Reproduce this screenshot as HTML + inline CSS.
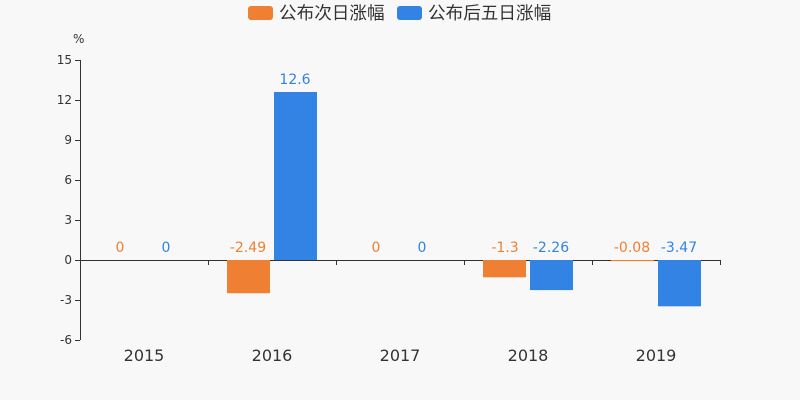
<!DOCTYPE html>
<html><head><meta charset="utf-8"><style>
body{margin:0;background:#f8f8f8;}
svg{display:block;font-family:"DejaVu Sans","Noto Sans CJK SC",sans-serif;}
</style></head><body>
<svg width="800" height="400" viewBox="0 0 800 400">
<rect width="800" height="400" fill="#f8f8f8"/>
<rect x="248" y="6" width="25" height="14" rx="3" fill="#ef7f32"/>
<text x="279" y="19" font-size="17.6" fill="#333">公布次日涨幅</text>
<rect x="397" y="6" width="25" height="14" rx="3" fill="#3283e4"/>
<text x="428" y="19" font-size="17.6" fill="#333">公布后五日涨幅</text>
<text x="73" y="43" font-size="12" fill="#333">%</text>
<g stroke="#333" stroke-width="1" fill="none">
<line x1="80.5" y1="60" x2="80.5" y2="340"/>
<line x1="80" y1="260.5" x2="720" y2="260.5"/>
<line x1="75" y1="60.5" x2="80" y2="60.5"/><line x1="75" y1="100.5" x2="80" y2="100.5"/>
<line x1="75" y1="140.5" x2="80" y2="140.5"/><line x1="75" y1="180.5" x2="80" y2="180.5"/>
<line x1="75" y1="220.5" x2="80" y2="220.5"/><line x1="75" y1="260.5" x2="80" y2="260.5"/>
<line x1="75" y1="300.5" x2="80" y2="300.5"/><line x1="75" y1="340.5" x2="80" y2="340.5"/>
<line x1="208.5" y1="260" x2="208.5" y2="265"/><line x1="336.5" y1="260" x2="336.5" y2="265"/>
<line x1="464.5" y1="260" x2="464.5" y2="265"/><line x1="592.5" y1="260" x2="592.5" y2="265"/>
<line x1="720.5" y1="260" x2="720.5" y2="265"/>
</g>
<g font-size="12" fill="#333" text-anchor="end">
<text x="72" y="64">15</text><text x="72" y="104">12</text><text x="72" y="144">9</text>
<text x="72" y="184">6</text><text x="72" y="224">3</text><text x="72" y="264">0</text>
<text x="72" y="304">-3</text><text x="72" y="344">-6</text>
</g>
<g font-size="16" fill="#333" text-anchor="middle">
<text x="144" y="361">2015</text><text x="272" y="361">2016</text><text x="400" y="361">2017</text>
<text x="528" y="361">2018</text><text x="656" y="361">2019</text>
</g>
<g fill="#ef7f32">
<rect x="227" y="260" width="43" height="33.2"/>
<rect x="483" y="260" width="43" height="17.3"/>
<rect x="611" y="260" width="43" height="1.1"/>
</g>
<g fill="#3283e4">
<rect x="274" y="92" width="43" height="168"/>
<rect x="530" y="260" width="43" height="30.1"/>
<rect x="658" y="260" width="43" height="46.3"/>
</g>
<g font-size="14" text-anchor="middle">
<text x="120" y="252" fill="#ef7f32">0</text><text x="166" y="252" fill="#3283e4">0</text>
<text x="248" y="252" fill="#ef7f32">-2.49</text><text x="295" y="84" fill="#3283e4">12.6</text>
<text x="376" y="252" fill="#ef7f32">0</text><text x="422" y="252" fill="#3283e4">0</text>
<text x="505" y="252" fill="#ef7f32">-1.3</text><text x="551" y="252" fill="#3283e4">-2.26</text>
<text x="632" y="252" fill="#ef7f32">-0.08</text><text x="679" y="252" fill="#3283e4">-3.47</text>
</g>
</svg>
</body></html>
